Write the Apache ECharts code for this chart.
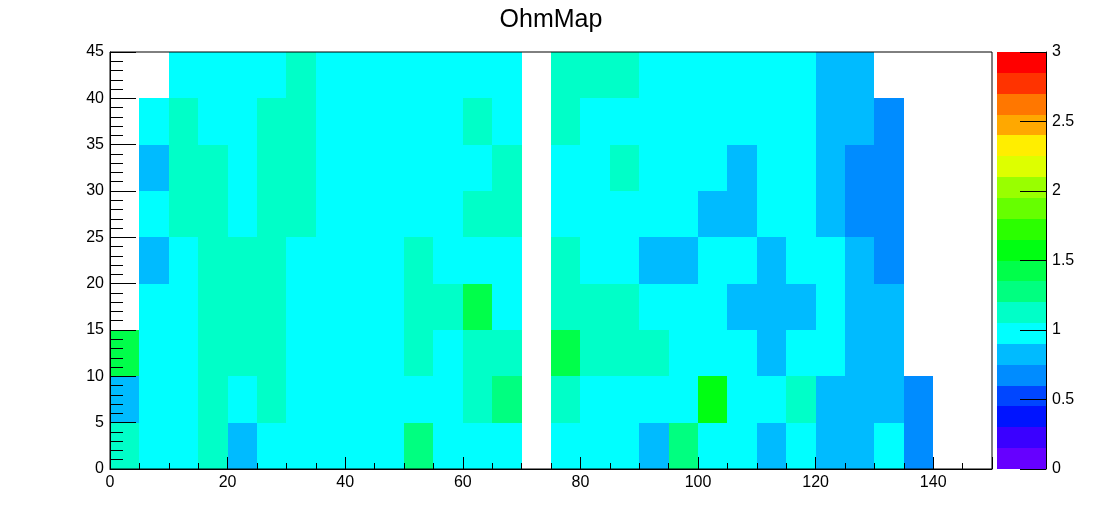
<!DOCTYPE html>
<html>
<head>
<meta charset="utf-8">
<script src="https://cdn.jsdelivr.net/npm/echarts@6/dist/echarts.min.js"></script>
<style>
html,body{margin:0;padding:0;background:#ffffff;}
#chart{width:1102px;height:522px;}
</style>
</head>
<body>
<div id="chart"></div>
<script>
// ---- data ----
const chartTitle = 'OhmMap';
// low edges of the x bins (width 5) and y bins (height 5)
const xBinLow = [0,5,10,15,20,25,30,35,40,45,50,55,60,65,70,75,80,85,90,95,100,105,110,115,120,125,130,135,140,145];
const yBinLow = [0,5,10,15,20,25,30,35,40];
const binWidth = 5;
const binHeight = 5;

// one array per y bin, values (null = empty)
const rowY00 = [1.12,0.98,0.98,1.12,0.83, 0.98,0.98,0.98,0.98,0.98, 1.28,0.98,0.98,0.98,null, 0.98,0.98,0.98,0.83,1.28, 0.98,0.98,0.83,0.98,0.83, 0.83,0.98,0.68,null,null];
const rowY05 = [0.83,0.98,0.98,1.12,0.98, 1.12,0.98,0.98,0.98,0.98, 0.98,0.98,1.12,1.28,null, 1.12,0.98,0.98,0.98,0.98, 1.57,0.98,0.98,1.12,0.83, 0.83,0.83,0.68,null,null];
const rowY10 = [1.42,0.98,0.98,1.12,1.12, 1.12,0.98,0.98,0.98,0.98, 1.12,0.98,1.12,1.12,null, 1.42,1.12,1.12,1.12,0.98, 0.98,0.98,0.83,0.98,0.98, 0.83,0.83,null,null,null];
const rowY15 = [null,0.98,0.98,1.12,1.12, 1.12,0.98,0.98,0.98,0.98, 1.12,1.12,1.42,0.98,null, 1.12,1.12,1.12,0.98,0.98, 0.98,0.83,0.83,0.83,0.98, 0.83,0.83,null,null,null];
const rowY20 = [null,0.83,0.98,1.12,1.12, 1.12,0.98,0.98,0.98,0.98, 1.12,0.98,0.98,0.98,null, 1.12,0.98,0.98,0.83,0.83, 0.98,0.98,0.83,0.98,0.98, 0.83,0.68,null,null,null];
const rowY25 = [null,0.98,1.12,1.12,0.98, 1.12,1.12,0.98,0.98,0.98, 0.98,0.98,1.12,1.12,null, 0.98,0.98,0.98,0.98,0.98, 0.83,0.83,0.98,0.98,0.83, 0.68,0.68,null,null,null];
const rowY30 = [null,0.83,1.12,1.12,0.98, 1.12,1.12,0.98,0.98,0.98, 0.98,0.98,0.98,1.12,null, 0.98,0.98,1.12,0.98,0.98, 0.98,0.83,0.98,0.98,0.83, 0.68,0.68,null,null,null];
const rowY35 = [null,0.98,1.12,0.98,0.98, 1.12,1.12,0.98,0.98,0.98, 0.98,0.98,1.12,0.98,null, 1.12,0.98,0.98,0.98,0.98, 0.98,0.98,0.98,0.98,0.83, 0.83,0.68,null,null,null];
const rowY40 = [null,null,0.98,0.98,0.98, 0.98,1.12,0.98,0.98,0.98, 0.98,0.98,0.98,0.98,null, 1.12,1.12,1.12,0.98,0.98, 0.98,0.98,0.98,0.98,0.83, 0.83,null,null,null,null];
const rows = [rowY00,rowY05,rowY10,rowY15,rowY20,rowY25,rowY30,rowY35,rowY40];

// colour scale: contour levels and palette (bottom to top)
const levelEdges = [0,0.15,0.3,0.45,0.6,0.75,0.9,1.05,1.2,1.35,1.5,1.65,1.8,1.95,2.1,2.25,2.4,2.55,2.7,2.85,3];
const palette = ['#6600ff','#3a00ff','#0014ff','#0046ff','#008cff','#00bbff','#00ffff','#00ffc8','#00ff80','#00ff4a',
                 '#00ff12','#2bff00','#66ff00','#99ff00','#ddff00','#ffee00','#ffa800','#ff7700','#ff3300','#ff0000'];
const zMin = 0, zMax = 3;
const xTickMajor = 20, xTickMinor = 5, yTickMajor = 5, zTickMajor = 0.5;

// ---- build series data ----
const cellData = [];
rows.forEach((row, j) => {
  row.forEach((v, i) => {
    if (v !== null) cellData.push([xBinLow[i], yBinLow[j], v]);
  });
});
const barData = [];
for (let k = 0; k < palette.length; k++) {
  barData.push([levelEdges[k], levelEdges[k + 1], (levelEdges[k] + levelEdges[k + 1]) / 2]);
}
const pieces = palette.map((c, k) => ({ gte: levelEdges[k], lt: levelEdges[k + 1], color: c }));
pieces[pieces.length - 1].lte = levelEdges[levelEdges.length - 1];
delete pieces[pieces.length - 1].lt;

const FONT = 'Liberation Sans, Arial, Helvetica, sans-serif';
const black = '#000000';

const chart = echarts.init(document.getElementById('chart'), null, { renderer: 'canvas' });
chart.setOption({
  animation: false,
  backgroundColor: '#ffffff',
  title: {
    text: chartTitle,
    left: 'center',
    top: 3,
    textStyle: { fontFamily: FONT, fontSize: 25, fontWeight: 'normal', color: black }
  },
  visualMap: {
    type: 'piecewise',
    show: false,
    dimension: 2,
    seriesIndex: [0, 1],
    pieces: pieces
  },
  grid: [
    { left: 110, top: 52, width: 882, height: 417, show: true, z: 10,
      backgroundColor: 'transparent', borderColor: black, borderWidth: 1 },
    { left: 997, top: 52, width: 49, height: 417, show: false }
  ],
  xAxis: [
    { gridIndex: 0, type: 'value', min: 0, max: 150, interval: xTickMajor, position: 'bottom', z: 10,
      axisLine: { show: true, onZero: false, lineStyle: { color: black, width: 1 } },
      axisTick: { show: true, inside: true, length: 12, lineStyle: { color: black, width: 1 } },
      axisLabel: { show: true, color: black, fontFamily: FONT, fontSize: 16, margin: 6,
        formatter: v => (v === 150 ? '' : String(v)) },
      splitLine: { show: false } },
    { gridIndex: 0, type: 'value', min: 0, max: 150, interval: xTickMinor, position: 'bottom', z: 10,
      axisLine: { show: false, onZero: false },
      axisTick: { show: true, inside: true, length: 6, lineStyle: { color: black, width: 1 } },
      axisLabel: { show: false },
      splitLine: { show: false } },
    { gridIndex: 1, type: 'value', min: 0, max: 1, show: false, axisLine: { onZero: false } }
  ],
  yAxis: [
    { gridIndex: 0, type: 'value', min: 0, max: 45, interval: yTickMajor, position: 'left', z: 10,
      axisLine: { show: true, onZero: false, lineStyle: { color: black, width: 1 } },
      axisTick: { show: true, inside: true, length: 26, lineStyle: { color: black, width: 1 } },
      minorTick: { show: true, splitNumber: 5, length: 13, lineStyle: { color: black, width: 1 } },
      axisLabel: { show: true, color: black, fontFamily: FONT, fontSize: 16, margin: 6 },
      splitLine: { show: false }, minorSplitLine: { show: false } },
    { gridIndex: 1, type: 'value', min: zMin, max: zMax, interval: zTickMajor, position: 'right', z: 10,
      axisLine: { show: true, onZero: false, lineStyle: { color: black, width: 1 } },
      axisTick: { show: true, inside: true, length: 26, lineStyle: { color: black, width: 1 } },
      axisLabel: { show: true, color: black, fontFamily: FONT, fontSize: 16, margin: 6 },
      splitLine: { show: false } }
  ],
  series: [
    {
      type: 'custom',
      name: 'OhmMap',
      xAxisIndex: 0, yAxisIndex: 0,
      z: 2,
      silent: true,
      data: cellData,
      encode: { x: 0, y: 1 },
      renderItem: function (params, api) {
        const x = api.value(0), y = api.value(1);
        const p0 = api.coord([x, y + binHeight]);
        const p1 = api.coord([x + binWidth, y]);
        const x0 = Math.round(p0[0]), y0 = Math.round(p0[1]);
        const x1 = Math.round(p1[0]), y1 = Math.round(p1[1]);
        return { type: 'rect', shape: { x: x0, y: y0, width: x1 - x0, height: y1 - y0 },
                 style: { fill: api.visual('color') } };
      }
    },
    {
      type: 'custom',
      name: 'palette',
      xAxisIndex: 2, yAxisIndex: 1,
      z: 2,
      silent: true,
      data: barData,
      encode: { y: [0, 1] },
      renderItem: function (params, api) {
        const lo = api.value(0), hi = api.value(1);
        const p0 = api.coord([0, hi]);
        const p1 = api.coord([1, lo]);
        const x0 = Math.round(p0[0]), y0 = Math.round(p0[1]);
        const x1 = Math.round(p1[0]), y1 = Math.round(p1[1]);
        return { type: 'rect', shape: { x: x0, y: y0, width: x1 - x0, height: y1 - y0 },
                 style: { fill: api.visual('color') } };
      }
    }
  ]
});
</script>
</body>
</html>
